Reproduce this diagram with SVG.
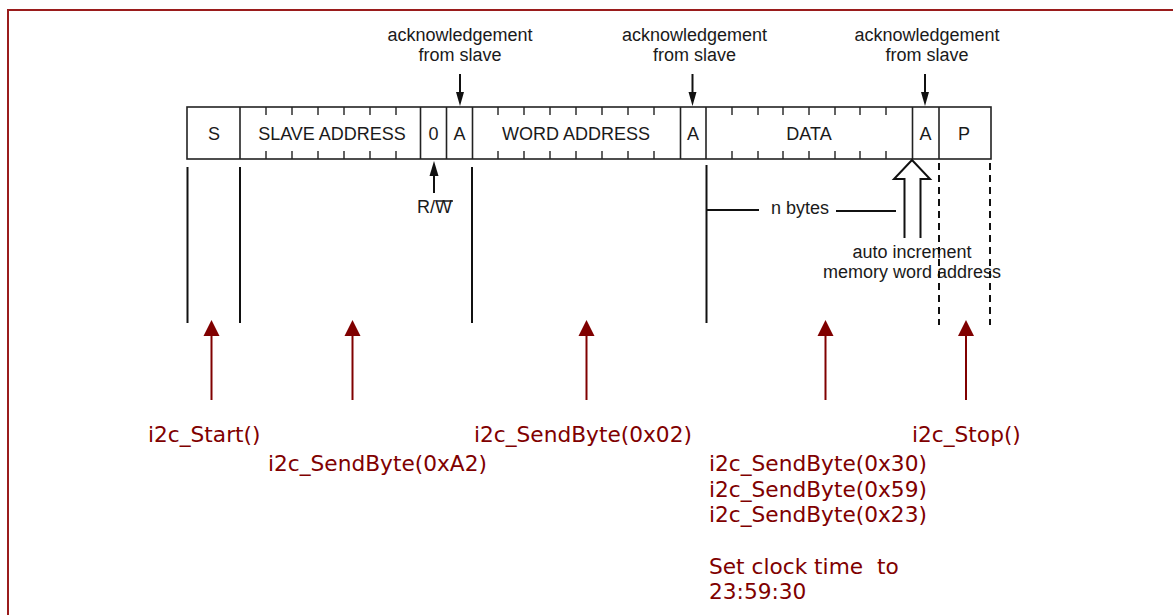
<svg xmlns="http://www.w3.org/2000/svg" width="1173" height="615" viewBox="0 0 1173 615">
<style>
.frame{fill:none;stroke:#9a1c1c;stroke-width:2}
.box{fill:#fff;stroke:#222;stroke-width:1.6}
.div{stroke:#222;stroke-width:1.6}
.tick{stroke:#222;stroke-width:1.4}
.vl{stroke:#111;stroke-width:2}
.dash{stroke:#111;stroke-width:2;stroke-dasharray:7 5}
.fld{font-family:"Liberation Sans",Arial,sans-serif;font-size:18px;fill:#1a1a1a;text-anchor:middle}
.note{font-family:"Liberation Sans",Arial,sans-serif;font-size:18px;fill:#1a1a1a}
.red{font-family:"DejaVu Sans",Verdana,sans-serif;font-size:21.7px;fill:#800000}
.rarrow{stroke:#800000;stroke-width:2}
.rhead{fill:#800000}
.bhead{fill:#111}
</style>
<rect class="frame" x="8" y="10" width="1180" height="620"/>

<g id="frame-bar">
<rect class="box" x="187" y="107" width="804" height="52"/>
</g>
<g id="field-S">
<text class="fld" x="214" y="140">S</text>
</g>
<g id="field-slave-address">
<line class="div" x1="240" y1="107" x2="240" y2="159"/>
<g class="tick">
<path d="M266 107v8M292 107v8M318 107v8M344 107v8M370 107v8M396 107v8M266 159v-8M292 159v-8M318 159v-8M344 159v-8M370 159v-8M396 159v-8"/>
</g>
<text class="fld" x="332" y="140">SLAVE ADDRESS</text>
</g>
<g id="field-rw">
<line class="div" x1="420.5" y1="107" x2="420.5" y2="159"/>
<text class="fld" x="433.5" y="140">0</text>
</g>
<g id="field-ack1">
<line class="div" x1="446.5" y1="107" x2="446.5" y2="159"/>
<text class="fld" x="459.5" y="140">A</text>
</g>
<g id="field-word-address">
<line class="div" x1="472.5" y1="107" x2="472.5" y2="159"/>
<g class="tick">
<path d="M498 107v8M524 107v8M550 107v8M576 107v8M602 107v8M628 107v8M654 107v8M498 159v-8M524 159v-8M550 159v-8M576 159v-8M602 159v-8M628 159v-8M654 159v-8"/>
</g>
<text class="fld" x="576" y="140">WORD ADDRESS</text>
</g>
<g id="field-ack2">
<line class="div" x1="680.5" y1="107" x2="680.5" y2="159"/>
<text class="fld" x="693" y="140">A</text>
</g>
<g id="field-data">
<line class="div" x1="706" y1="107" x2="706" y2="159"/>
<g class="tick">
<path d="M732 107v8M758 107v8M783 107v8M809 107v8M835 107v8M860 107v8M886 107v8M732 159v-8M758 159v-8M783 159v-8M809 159v-8M835 159v-8M860 159v-8M886 159v-8"/>
</g>
<text class="fld" x="809" y="140">DATA</text>
</g>
<g id="field-ack3">
<line class="div" x1="912.5" y1="107" x2="912.5" y2="159"/>
<text class="fld" x="925.5" y="140">A</text>
</g>
<g id="field-P">
<line class="div" x1="939" y1="107" x2="939" y2="159"/>
<text class="fld" x="964" y="140">P</text>
</g>

<g id="ack-label-1">
<text class="fld" x="460" y="41">acknowledgement</text>
<text class="fld" x="460" y="61">from slave</text>
</g>
<g id="ack-label-2">
<text class="fld" x="694.5" y="41">acknowledgement</text>
<text class="fld" x="694.5" y="61">from slave</text>
</g>
<g id="ack-label-3">
<text class="fld" x="927" y="41">acknowledgement</text>
<text class="fld" x="927" y="61">from slave</text>
</g>
<g id="rw-label">
<text class="fld" x="434.5" y="213">R/W</text>
<line x1="437" y1="201" x2="453" y2="201" stroke="#1a1a1a" stroke-width="1.5"/>
</g>
<g id="nbytes-label">
<text class="note" x="771" y="214">n bytes</text>
</g>
<g id="autoinc-label">
<text class="fld" x="912" y="258">auto increment</text>
<text class="fld" x="912" y="278">memory word address</text>
</g>

<g id="call-start"><text class="red" x="148" y="442">i2c_Start()</text></g>
<g id="call-a2"><text class="red" x="268" y="471">i2c_SendByte(0xA2)</text></g>
<g id="call-02"><text class="red" x="474" y="442">i2c_SendByte(0x02)</text></g>
<g id="call-stop"><text class="red" x="912" y="442">i2c_Stop()</text></g>
<g id="call-data">
<text class="red" x="709" y="471">i2c_SendByte(0x30)</text>
<text class="red" x="709" y="497">i2c_SendByte(0x59)</text>
<text class="red" x="709" y="522">i2c_SendByte(0x23)</text>
<text class="red" x="709" y="574" xml:space="preserve">Set clock time  to</text>
<text class="red" x="709" y="599">23:59:30</text>
</g>

<g id="connectors">
<line class="vl" x1="460" y1="74" x2="460" y2="96"/>
<polygon class="bhead" points="456,92 464,92 460,106"/>
<line class="vl" x1="692.5" y1="74" x2="692.5" y2="96"/>
<polygon class="bhead" points="688.5,92 696.5,92 692.5,106"/>
<line class="vl" x1="925" y1="74" x2="925" y2="96"/>
<polygon class="bhead" points="921,92 929,92 925,106"/>

<line class="vl" x1="434" y1="172" x2="434" y2="193"/>
<polygon class="bhead" points="429.5,176 438.5,176 434,161"/>

<line class="vl" x1="187.5" y1="167" x2="187.5" y2="323"/>
<line class="vl" x1="240" y1="167" x2="240" y2="323"/>
<line class="vl" x1="472" y1="167" x2="472" y2="323"/>
<line class="vl" x1="706.5" y1="165" x2="706.5" y2="323"/>
<line class="dash" x1="939" y1="163" x2="939" y2="325"/>
<line class="dash" x1="990" y1="163" x2="990" y2="325"/>

<line class="vl" x1="706" y1="210" x2="759" y2="210"/>
<line class="vl" x1="836" y1="211" x2="896" y2="211"/>

<polyline points="904.5,238 904.5,179 894,179 912,160 930,179 920.5,179 920.5,238" fill="none" stroke="#111" stroke-width="2"/>

<line class="rarrow" x1="211.5" y1="332" x2="211.5" y2="400"/>
<polygon class="rhead" points="211.5,320 203.5,336 219.5,336"/>
<line class="rarrow" x1="352.5" y1="332" x2="352.5" y2="400"/>
<polygon class="rhead" points="352.5,320 344.5,336 360.5,336"/>
<line class="rarrow" x1="586.5" y1="332" x2="586.5" y2="400"/>
<polygon class="rhead" points="586.5,320 578.5,336 594.5,336"/>
<line class="rarrow" x1="825.5" y1="332" x2="825.5" y2="400"/>
<polygon class="rhead" points="825.5,320 817.5,336 833.5,336"/>
<line class="rarrow" x1="966" y1="332" x2="966" y2="400"/>
<polygon class="rhead" points="966,320 958,336 974,336"/>
</g>
</svg>
